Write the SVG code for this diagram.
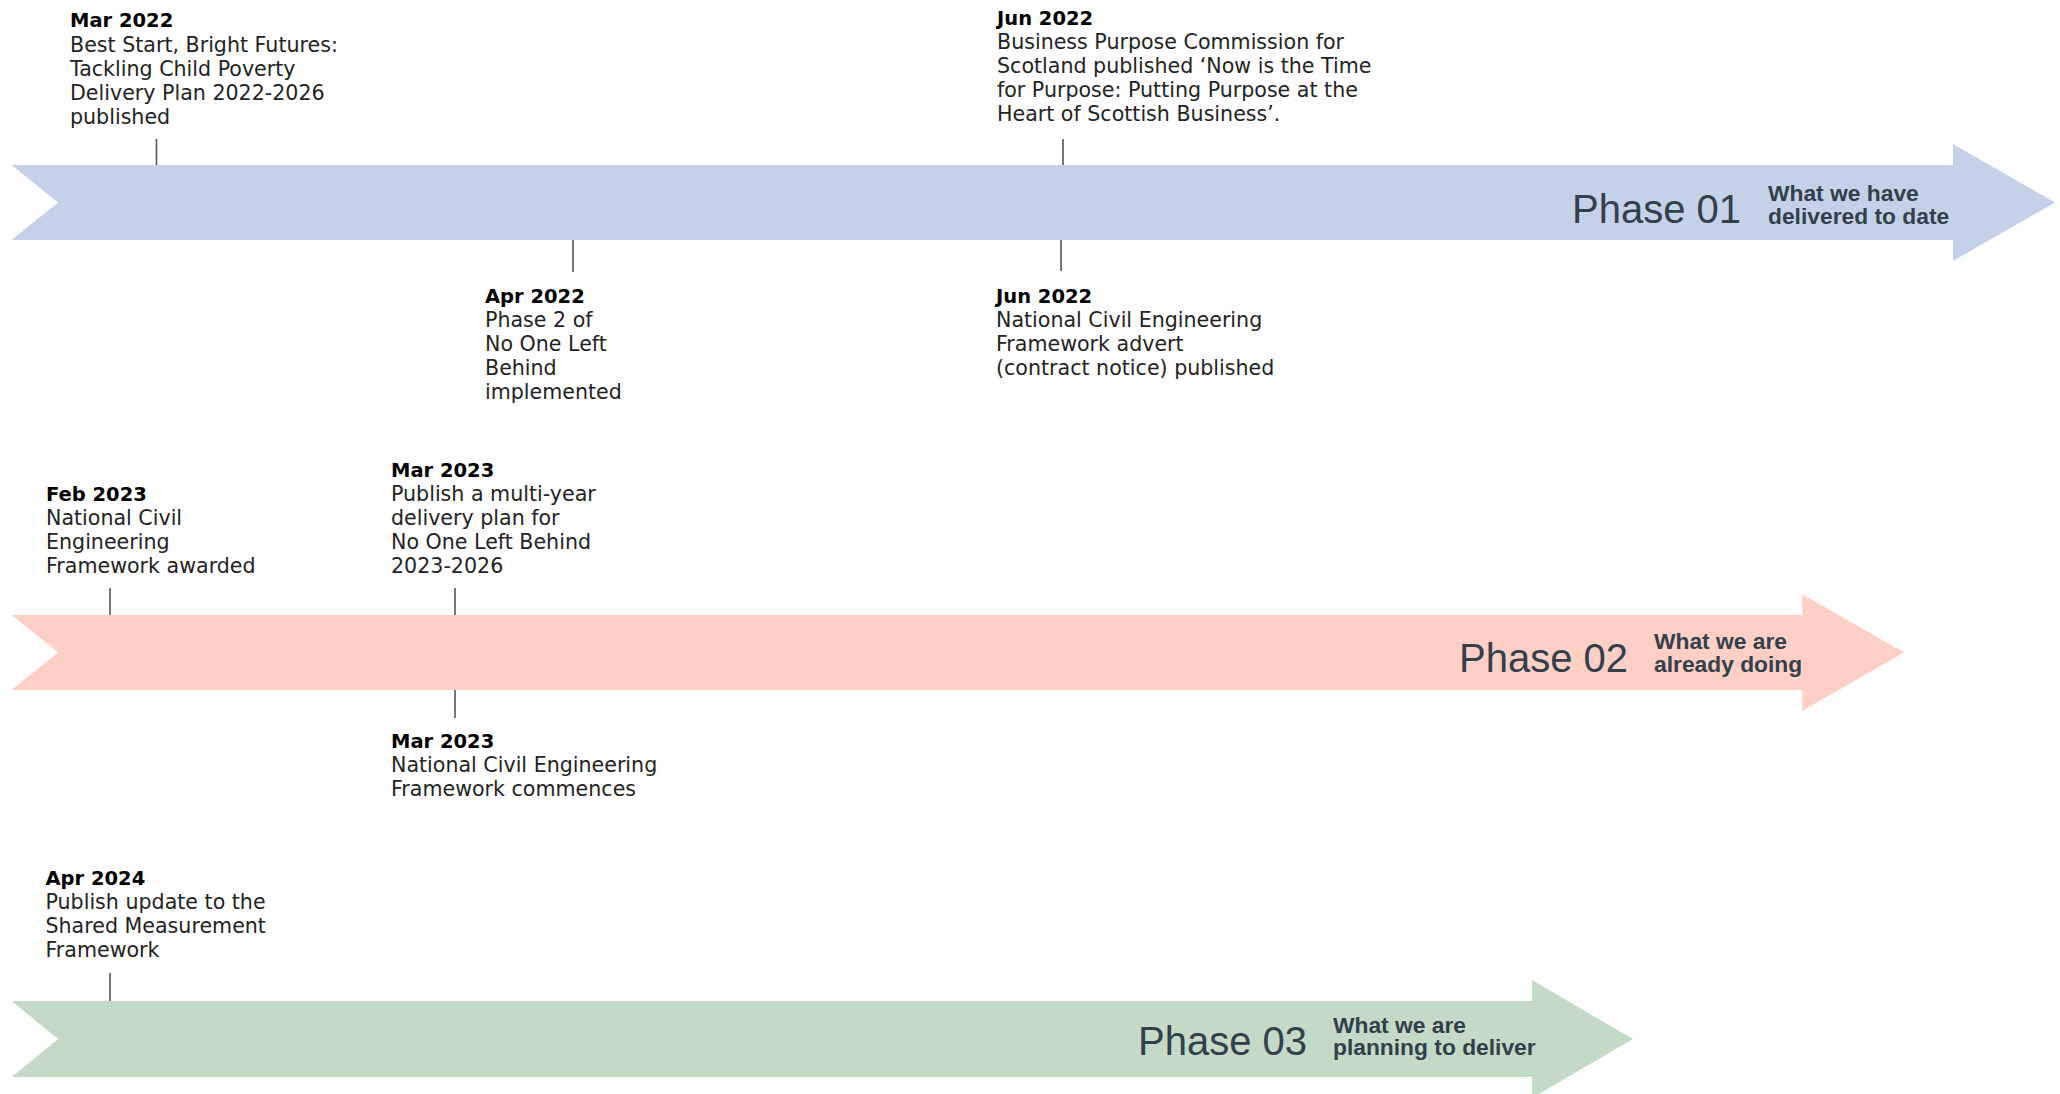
<svg xmlns="http://www.w3.org/2000/svg" width="2060" height="1094" viewBox="0 0 2060 1094">
<style>
.ev{font-family:"DejaVu Sans","Noto Sans",sans-serif;font-size:20.6px;fill:#232323;}
.dt{font-family:"DejaVu Sans","Noto Sans",sans-serif;font-size:19.5px;font-weight:bold;fill:#000;}
.ph{font-family:"Liberation Sans",Arial,sans-serif;font-size:40px;fill:#333f4b;}
.sub{font-family:"Liberation Sans",Arial,sans-serif;font-size:22.8px;font-weight:bold;fill:#333f4b;}
.tick{stroke:#555;stroke-width:1.6;fill:none;}
</style>
<rect width="2060" height="1094" fill="#fff"/>
<g id="phase01">
<polygon points="11.5,165 1953,165 1953,144 2055,202.5 1953,261 1953,240 11.5,240 58,202.5" fill="#c5d1e8"/>
<text class="ph" x="1572" y="223">Phase 01</text>
<text class="sub" x="1768" y="201">What we have</text>
<text class="sub" x="1768" y="223.5">delivered to date</text>
</g>
<g id="phase02">
<polygon points="11.5,615 1802,615 1802,594 1904,652.5 1802,711 1802,690 11.5,690 58,652.5" fill="#fecfc5"/>
<text class="ph" x="1459" y="672">Phase 02</text>
<text class="sub" x="1654" y="648.5">What we are</text>
<text class="sub" x="1654" y="672">already doing</text>
</g>
<g id="phase03">
<polygon points="11.5,1001 1532,1001 1532,980 1633,1039 1532,1098 1532,1077 11.5,1077 58,1039" fill="#c4dac7"/>
<text class="ph" x="1138" y="1055">Phase 03</text>
<text class="sub" x="1333" y="1033">What we are</text>
<text class="sub" x="1333" y="1055">planning to deliver</text>
</g>
<g id="connectors">
<line class="tick" x1="156.5" y1="139" x2="156.5" y2="165"/>
<line class="tick" x1="1063" y1="139" x2="1063" y2="165"/>
<line class="tick" x1="573" y1="240" x2="573" y2="272"/>
<line class="tick" x1="1061" y1="240" x2="1061" y2="271"/>
<line class="tick" x1="110" y1="588" x2="110" y2="615"/>
<line class="tick" x1="455" y1="588" x2="455" y2="615"/>
<line class="tick" x1="455" y1="690" x2="455" y2="718"/>
<line class="tick" x1="110" y1="973" x2="110" y2="1001"/>
</g>
<g id="ev-mar2022">
<text class="dt" x="70" y="27">Mar 2022</text>
<text class="ev" x="70" y="52">Best Start, Bright Futures:</text>
<text class="ev" x="70" y="76">Tackling Child Poverty</text>
<text class="ev" x="70" y="100">Delivery Plan 2022-2026</text>
<text class="ev" x="70" y="124">published</text>
</g>
<g id="ev-jun2022-top">
<text class="dt" x="997" y="24.5">Jun 2022</text>
<text class="ev" x="997" y="48.5">Business Purpose Commission for</text>
<text class="ev" x="997" y="72.5">Scotland published ‘Now is the Time</text>
<text class="ev" x="997" y="96.5">for Purpose: Putting Purpose at the</text>
<text class="ev" x="997" y="120.5">Heart of Scottish Business’.</text>
</g>
<g id="ev-apr2022">
<text class="dt" x="485" y="303">Apr 2022</text>
<text class="ev" x="485" y="327">Phase 2 of</text>
<text class="ev" x="485" y="351">No One Left</text>
<text class="ev" x="485" y="375">Behind</text>
<text class="ev" x="485" y="399">implemented</text>
</g>
<g id="ev-jun2022-bottom">
<text class="dt" x="996" y="303">Jun 2022</text>
<text class="ev" x="996" y="327">National Civil Engineering</text>
<text class="ev" x="996" y="351">Framework advert</text>
<text class="ev" x="996" y="375">(contract notice) published</text>
</g>
<g id="ev-feb2023">
<text class="dt" x="46" y="501">Feb 2023</text>
<text class="ev" x="46" y="525">National Civil</text>
<text class="ev" x="46" y="549">Engineering</text>
<text class="ev" x="46" y="573">Framework awarded</text>
</g>
<g id="ev-mar2023-top">
<text class="dt" x="391" y="477">Mar 2023</text>
<text class="ev" x="391" y="501">Publish a multi-year</text>
<text class="ev" x="391" y="525">delivery plan for</text>
<text class="ev" x="391" y="549">No One Left Behind</text>
<text class="ev" x="391" y="573">2023-2026</text>
</g>
<g id="ev-mar2023-bottom">
<text class="dt" x="391" y="748">Mar 2023</text>
<text class="ev" x="391" y="772">National Civil Engineering</text>
<text class="ev" x="391" y="796">Framework commences</text>
</g>
<g id="ev-apr2024">
<text class="dt" x="45.5" y="885">Apr 2024</text>
<text class="ev" x="45.5" y="909">Publish update to the</text>
<text class="ev" x="45.5" y="933">Shared Measurement</text>
<text class="ev" x="45.5" y="957">Framework</text>
</g>
</svg>
